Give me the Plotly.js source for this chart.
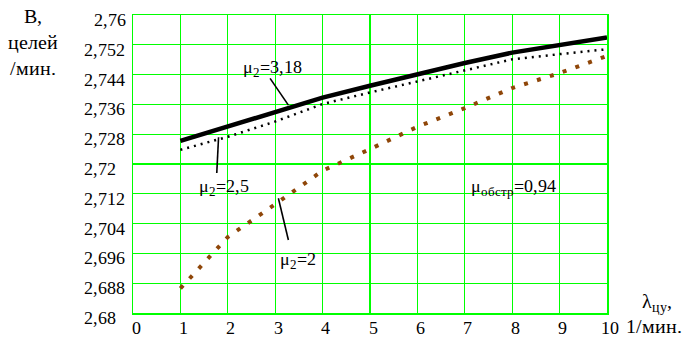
<!DOCTYPE html>
<html>
<head>
<meta charset="utf-8">
<script src="https://cdn.plot.ly/plotly-3.0.1.min.js"></script>
<style>
@font-face{font-family:"RefSerif";src:local("Liberation Serif"),local("LiberationSerif"),local("LiberationSerif-Regular"),local("Times New Roman");}
html,body{margin:0;padding:0;background:#fff;}
#chart{width:683px;height:337px;}
#chart svg text{font-family:"RefSerif","Liberation Serif","Times New Roman",serif !important;}
</style>
</head>
<body>
<div id="chart"></div>
<script>
// ---- data ----
const lambdaVals = [1, 2, 3, 4, 5, 6, 7, 8, 9, 10];
const b_mu318 = [2.7262, 2.7300, 2.7339, 2.7378, 2.7410, 2.7442, 2.7471, 2.7499, 2.7520, 2.7540];
const b_mu25  = [2.7238, 2.7273, 2.7314, 2.7361, 2.7392, 2.7421, 2.7450, 2.7481, 2.7495, 2.7508];
const b_mu2   = [2.6866, 2.7004, 2.7092, 2.7182, 2.7240, 2.7300, 2.7350, 2.7404, 2.7444, 2.7490];
const xTickVals = [0, 1, 2, 3, 4, 5, 6, 7, 8, 9, 10];
const xTickText = ["0", "1", "2", "3", "4", "5", "6", "7", "8", "9", "10"];
const yTickVals = [2.68, 2.688, 2.696, 2.704, 2.712, 2.72, 2.728, 2.736, 2.744, 2.752, 2.76];
const yTickText = ["2,68", "2,688", "2,696", "2,704", "2,712", "2,72", "2,728", "2,736", "2,744", "2,752", "2,76"];

const FONT = "Liberation Serif";
const GREEN = "#00ff00";

const traces = [
  {x: lambdaVals, y: b_mu2, mode: "lines", line: {color: "#8f4608", width: 4, dash: "4px,9.5px"}, hoverinfo: "skip"},
  {x: lambdaVals, y: b_mu25, mode: "lines", line: {color: "#000", width: 2.5, dash: "2px,5px"}, hoverinfo: "skip"},
  {x: lambdaVals, y: b_mu318, mode: "lines", line: {color: "#000", width: 4.5}, hoverinfo: "skip"}
];

const annotations = [];
yTickVals.forEach((v, i) => {
  const top = i === yTickVals.length - 1;
  annotations.push({
    xref: "paper", yref: "y", x: top ? -0.0105 : -0.1076, y: v,
    xanchor: top ? "right" : "left", yanchor: "middle", yshift: -5,
    text: yTickText[i], showarrow: false, font: {family: FONT, size: 18}
  });
});
xTickVals.forEach((v, i) => {
  annotations.push({
    xref: "x", yref: "paper", x: v, y: 0, xanchor: "center", yanchor: "top",
    xshift: 3, yshift: -3,
    text: xTickText[i], showarrow: false, font: {family: FONT, size: 18}
  });
});

const labelFont = {family: FONT, size: 18};
annotations.push(
  {xref: "x", yref: "y", x: 2.955, y: 2.7456, text: "μ<sub>2</sub>=3,18", showarrow: false, font: labelFont},
  {xref: "x", yref: "y", x: 1.921, y: 2.7136, text: "μ<sub>2</sub>=2,5", showarrow: false, font: labelFont},
  {xref: "x", yref: "y", x: 3.462, y: 2.6940, text: "μ<sub>2</sub>=2", showarrow: false, font: labelFont},
  {xref: "x", yref: "y", x: 8.043, y: 2.7138, text: "μ<sub>обстр</sub>=0,94", showarrow: false, font: labelFont},
  {xref: "paper", yref: "paper", x: -0.211, y: 1.04, xanchor: "center", yanchor: "top",
   text: "В,<br>целей<br>/мин.", showarrow: false, font: {family: FONT, size: 20}},
  {xref: "paper", yref: "paper", x: 1.104, y: 0.035, xanchor: "center", yanchor: "middle",
   text: "λ<sub>цу</sub>,", showarrow: false, font: {family: FONT, size: 20}},
  {xref: "paper", yref: "paper", x: 1.100, y: -0.045, xanchor: "center", yanchor: "middle",
   text: "1/мин.", showarrow: false, font: {family: FONT, size: 20}}
);

const leader = (x0, y0, x1, y1) => ({type: "line", xref: "x", yref: "y", x0, y0, x1, y1, line: {color: "#000", width: 1.6}});
const shapes = [
  leader(2.892, 2.7430, 3.278, 2.7358),
  leader(1.805, 2.7272, 1.767, 2.7176),
  leader(3.067, 2.7108, 3.278, 2.6996)
];

const layout = {
  width: 683, height: 337,
  margin: {l: 133, r: 76, t: 15, b: 24},
  paper_bgcolor: "#fff", plot_bgcolor: "#fff",
  showlegend: false,
  font: {color: "#000"},
  xaxis: {
    range: [0, 10], tickvals: xTickVals, showticklabels: false,
    showgrid: true, gridcolor: GREEN, gridwidth: 1.2,
    showline: true, linecolor: GREEN, linewidth: 1.5, mirror: true,
    zeroline: false, ticks: "", fixedrange: true
  },
  yaxis: {
    range: [2.68, 2.76], tickvals: yTickVals, showticklabels: false,
    showgrid: true, gridcolor: GREEN, gridwidth: 1.2,
    showline: true, linecolor: GREEN, linewidth: 1.5, mirror: true,
    zeroline: false, ticks: "", fixedrange: true
  },
  annotations, shapes
};

Plotly.newPlot("chart", traces, layout, {displayModeBar: false, staticPlot: true});
</script>
</body>
</html>
